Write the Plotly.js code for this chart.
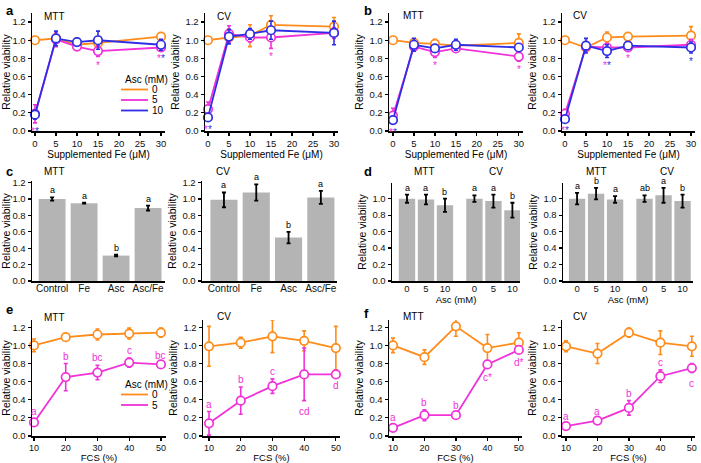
<!DOCTYPE html>
<html><head><meta charset="utf-8">
<script src="https://cdn.plot.ly/plotly-3.0.1.min.js"></script>
<style>html,body{margin:0;padding:0;background:#fff}#fig{width:701px;height:463px}</style>
</head><body><div id="fig"></div>
<script>
// ---------- DATA ----------
const feLevels = [0, 5, 10, 15, 30];
const ascLevels = ['0', '5', '10'];
const yTicks = [0, 0.2, 0.4, 0.6, 0.8, 1.0, 1.2];
// panel a MTT
const aMtt0 = [1.00, 1.02, 0.95, 0.97, 1.04], aMtt0E = [0.03, 0.03, 0.03, 0.04, 0.04];
const aMtt5 = [0.19, 1.01, 0.93, 0.88, 0.92], aMtt5E = [0.10, 0.08, 0.04, 0.06, 0.03];
const aMtt10 = [0.18, 1.02, 0.98, 1.00, 0.95], aMtt10E = [0.05, 0.08, 0.04, 0.10, 0.06];
const aMttStarM = ['*', '', '', '*', '*'], aMttStarB = ['*', '', '', '', '*'];
// panel a CV
const aCv0 = [1.00, 1.03, 1.05, 1.17, 1.15], aCv0E = [0.02, 0.03, 0.12, 0.10, 0.10];
const aCv5 = [0.24, 1.07, 1.03, 1.03, 1.08], aCv5E = [0.08, 0.09, 0.05, 0.12, 0.06];
const aCv10 = [0.15, 1.04, 1.07, 1.11, 1.08], aCv10E = [0.04, 0.08, 0.06, 0.10, 0.13];
const aCvStarM = ['*', '', '', '*', ''], aCvStarB = ['*', '', '', '', ''];
// panel b MTT
const bMtt0 = [1.00, 0.97, 0.96, 0.94, 0.97], bMtt0E = [0.02, 0.03, 0.05, 0.04, 0.10];
const bMtt5 = [0.17, 0.93, 0.87, 0.91, 0.82], bMtt5E = [0.08, 0.03, 0.06, 0.03, 0.05];
const bMtt10 = [0.12, 0.95, 0.91, 0.95, 0.92], bMtt10E = [0.04, 0.07, 0.04, 0.06, 0.04];
const bMttStarM = ['*', '', '*', '', '*'], bMttStarB = ['*', '', '', '', ''];
// panel b CV
const bCv0 = [1.00, 0.92, 1.03, 1.04, 1.05], bCv0E = [0.02, 0.03, 0.06, 0.04, 0.10];
const bCv5 = [0.19, 0.93, 0.92, 0.92, 0.95], bCv5E = [0.05, 0.05, 0.03, 0.03, 0.06];
const bCv10 = [0.13, 0.94, 0.88, 0.94, 0.92], bCv10E = [0.03, 0.08, 0.07, 0.03, 0.06];
const bCvStarM = ['*', '', '*', '*', ''], bCvStarB = ['*', '', '*', '', '*'];
// panel c
const cCats = ['Control', 'Fe', 'Asc', 'Asc/Fe'];
const cMtt = [1.00, 0.95, 0.31, 0.89], cMttE = [0.02, 0.005, 0.01, 0.03], cMttL = ['a', 'a', 'b', 'a'];
const cCv = [0.99, 1.08, 0.53, 1.02], cCvE = [0.09, 0.10, 0.07, 0.08], cCvL = ['a', 'a', 'b', 'a'];
// panel d
const dAsc = ['0', '5', '10'];
const dLMtt = [1.00, 0.99, 0.92], dLMttE = [0.05, 0.06, 0.08], dLMttL = ['a', 'a', 'b'];
const dLCv = [1.00, 0.97, 0.86], dLCvE = [0.04, 0.08, 0.09], dLCvL = ['a', 'a', 'b'];
const dRMtt = [1.00, 1.06, 0.99], dRMttE = [0.07, 0.07, 0.04], dRMttL = ['a', 'b', 'a'];
const dRCv = [1.00, 1.04, 0.97], dRCvE = [0.04, 0.09, 0.08], dRCvL = ['ab', 'a', 'b'];
// panels e, f
const fcs = [10, 20, 30, 40, 50];
const eMtt0 = [1.00, 1.09, 1.12, 1.13, 1.14], eMtt0E = [0.07, 0.03, 0.06, 0.06, 0.05];
const eMtt5 = [0.15, 0.65, 0.70, 0.81, 0.79], eMtt5E = [0.04, 0.15, 0.08, 0.05, 0.02];
const eMttL = ['a', 'b', 'bc', 'c', 'bc'], eMttSide = ['up', 'up', 'up', 'up', 'up'];
const eCv0 = [0.99, 1.03, 1.10, 1.05, 0.97], eCv0E = [0.22, 0.06, 0.18, 0.11, 0.24];
const eCv5 = [0.14, 0.39, 0.55, 0.68, 0.68], eCv5E = [0.13, 0.15, 0.08, 0.29, 0.01];
const eCvL = ['a', 'b', 'c', 'cd', 'd'], eCvSide = ['up', 'up', 'up', 'down', 'down'];
const fMtt0 = [1.00, 0.87, 1.21, 0.97, 1.03], fMtt0E = [0.08, 0.08, 0.11, 0.15, 0.11];
const fMtt5 = [0.09, 0.23, 0.23, 0.79, 0.95], fMtt5E = [0.03, 0.06, 0.02, 0.03, 0.02];
const fMttL = ['a', 'b', 'b', 'c*', 'd*'], fMttSide = ['up', 'up', 'up', 'down', 'down'];
const fCv0 = [0.99, 0.91, 1.14, 1.03, 0.99], fCv0E = [0.06, 0.11, 0.05, 0.13, 0.11];
const fCv5 = [0.11, 0.17, 0.31, 0.66, 0.75], fCv5E = [0.02, 0.02, 0.08, 0.07, 0.05];
const fCvL = ['a', 'a', 'b', 'c', 'c'], fCvSide = ['up', 'up', 'up', 'up', 'down'];

// ---------- STYLE ----------
const W = 701, H = 463;
const FONT = 'Liberation Sans, Arial, sans-serif';
const COL = {o: '#ff8c1a', m: '#f032d8', b: '#2e2ee6'};
const BARC = '#b4b4b4';
const data = [], annotations = [], shapes = [];
const layout = {
  width: W, height: H, margin: {l: 0, r: 0, t: 0, b: 0},
  paper_bgcolor: '#fff', plot_bgcolor: 'rgba(0,0,0,0)', showlegend: false,
  font: {family: FONT, size: 9.5, color: '#000'}
};
function axCommon() {
  return {showline: true, linecolor: '#000', linewidth: 1.5, showgrid: false, zeroline: false,
    ticks: 'outside', ticklen: 3, tickwidth: 1.2, tickcolor: '#000',
    tickfont: {family: FONT, size: 9.5, color: '#111'}, fixedrange: true};
}
function setX(n, px0, px1, range, extra) {
  layout['xaxis' + (n === 1 ? '' : n)] = Object.assign(axCommon(),
    {domain: [px0 / W, px1 / W], range: range, anchor: 'y' + (n === 1 ? '' : n)}, extra || {});
}
function setY(n, pyTop, pyBot, range, extra) {
  layout['yaxis' + (n === 1 ? '' : n)] = Object.assign(axCommon(),
    {domain: [1 - pyBot / H, 1 - pyTop / H], range: range, anchor: 'x' + (n === 1 ? '' : n),
     tickmode: 'array', tickvals: yTicks, ticktext: yTicks.map(v => v.toFixed(1)),
     title: {text: 'Relative viability', font: {family: FONT, size: 10.5}, standoff: 3}}, extra || {});
  // minor ticks drawn by an overlaid, label-less axis
  layout['yaxis' + (n + 12)] = {overlaying: 'y' + (n === 1 ? '' : n), anchor: 'x' + (n === 1 ? '' : n),
    range: range, tickmode: 'linear', tick0: 0, dtick: 0.1, ticks: 'outside', ticklen: 2, tickwidth: 1,
    tickcolor: '#000', showticklabels: false, showline: false, showgrid: false, zeroline: false, fixedrange: true};
}
function ref(n) { return n === 1 ? ['x', 'y'] : ['x' + n, 'y' + n]; }

function lineTrace(n, x, y, e, color) {
  const [xa, ya] = ref(n);
  data.push({type: 'scatter', mode: 'lines+markers', x: x, y: y, xaxis: xa, yaxis: ya,
    line: {color: color, width: 1.8},
    marker: {symbol: 'circle', size: 8.5, color: '#fff', line: {color: color, width: 1.7}},
    error_y: {type: 'data', array: e, visible: true, color: color, thickness: 1.6, width: 2},
    cliponaxis: false});
}
function barTrace(n, x, y, e, width) {
  const [xa, ya] = ref(n);
  data.push({type: 'bar', x: x, y: y, xaxis: xa, yaxis: ya, width: width,
    marker: {color: BARC, line: {width: 0}},
    error_y: {type: 'data', array: e, visible: true, color: '#000', thickness: 1.8, width: 2}});
}
function txt(n, x, y, text, opts) {
  const [xa, ya] = ref(n);
  annotations.push(Object.assign({xref: xa, yref: ya, x: x, y: y, text: text, showarrow: false,
    font: {family: FONT, size: 9, color: '#000'}}, opts || {}));
}
function paperTxt(px, py, text, size, extra) {
  annotations.push(Object.assign({xref: 'paper', yref: 'paper', x: px / W, y: 1 - py / H, text: text,
    showarrow: false, xanchor: 'left', yanchor: 'middle', font: {family: FONT, size: size, color: '#000'}}, extra || {}));
}
function stars(n, x, v5, e5, v10, e10, sM, sB) {
  x.forEach((xv, i) => {
    const m = sM[i], b = sB[i];
    if (!m && !b) return;
    let t = '', yv;
    if (m && b) {
      t = '<span style="color:' + COL.m + '">' + m + '</span><span style="color:' + COL.b + '">' + b + '</span>';
      yv = Math.min(v5[i] - e5[i], v10[i] - e10[i]);
    } else if (m) { t = m; yv = v5[i] - e5[i]; }
    else { t = b; yv = v10[i] - e10[i]; }
    txt(n, xv, yv, t, {yanchor: 'top', yshift: -1, font: {family: FONT, size: 10, color: m && !b ? COL.m : (b && !m ? COL.b : '#000')}});
  });
}
function letters(n, x, v, e, L, side, color) {
  x.forEach((xv, i) => {
    const up = !side || side[i] === 'up';
    txt(n, xv, up ? v[i] + e[i] : v[i] - e[i], L[i],
      {yanchor: up ? 'bottom' : 'top', yshift: up ? 0 : -3, font: {family: FONT, size: color ? 10 : 9, color: color || '#000'}});
  });
}

// ---------- ROW 1 : a, b ----------
const feTitle = {text: 'Supplemented Fe (μM)', font: {family: FONT, size: 10}, standoff: 2};
const feX = {tick0: 0, dtick: 5, title: feTitle};
setX(1, 32, 165, [-0.71, 30.95], feX);   setY(1, 13, 131, [0, 1.3]);
setX(2, 205, 338, [-0.71, 30.95], feX);  setY(2, 13, 131, [0, 1.3]);
setX(3, 389, 523, [-0.95, 31.0], feX);   setY(3, 13, 131, [0, 1.3]);
setX(4, 562, 695, [-0.71, 30.95], feX);  setY(4, 13, 131, [0, 1.3]);
[[1, aMtt0, aMtt0E, aMtt5, aMtt5E, aMtt10, aMtt10E, aMttStarM, aMttStarB],
 [2, aCv0, aCv0E, aCv5, aCv5E, aCv10, aCv10E, aCvStarM, aCvStarB],
 [3, bMtt0, bMtt0E, bMtt5, bMtt5E, bMtt10, bMtt10E, bMttStarM, bMttStarB],
 [4, bCv0, bCv0E, bCv5, bCv5E, bCv10, bCv10E, bCvStarM, bCvStarB]].forEach(p => {
  lineTrace(p[0], feLevels, p[1], p[2], COL.o);
  lineTrace(p[0], feLevels, p[3], p[4], COL.m);
  lineTrace(p[0], feLevels, p[5], p[6], COL.b);
  stars(p[0], feLevels, p[3], p[4], p[5], p[6], p[7], p[8]);
});

// ---------- ROW 2 : c, d ----------
const catX = {type: 'category', ticks: '', ticklabelstandoff: -3, tickfont: {family: FONT, size: 10, color: '#111'}};
setX(5, 32, 165, [-0.63, 3.53], catX);   setY(5, 181, 281, [0, 1.22]);
setX(6, 202, 337, [-0.68, 3.5], catX);   setY(6, 181, 281, [0, 1.22]);
barTrace(5, cCats, cMtt, cMttE, 0.84);  letters(5, cCats, cMtt, cMttE, cMttL);
barTrace(6, cCats, cCv, cCvE, 0.84);    letters(6, cCats, cCv, cCvE, cCvL);

const groupGap = 3.55;
const dPosM = dAsc.map((_, i) => i), dPosC = dAsc.map((_, i) => i + groupGap);
const dX = {tickmode: 'array', tickvals: dPosM.concat(dPosC), ticktext: dAsc.concat(dAsc), ticks: '',
  ticklabelstandoff: -2, tickfont: {family: FONT, size: 9.5, color: '#111'},
  title: {text: 'Asc (mM)', font: {family: FONT, size: 9.5}, standoff: 0}};
setX(7, 392, 520, [-0.79, 5.95], dX);   setY(7, 183, 281, [0, 1.19]);
setX(8, 563, 693, [-0.74, 6.1], dX);    setY(8, 183, 281, [0, 1.19]);
barTrace(7, dPosM, dLMtt, dLMttE, 0.86); barTrace(7, dPosC, dLCv, dLCvE, 0.86);
barTrace(8, dPosM, dRMtt, dRMttE, 0.86); barTrace(8, dPosC, dRCv, dRCvE, 0.86);
letters(7, dPosM, dLMtt, dLMttE, dLMttL); letters(7, dPosC, dLCv, dLCvE, dLCvL);
letters(8, dPosM, dRMtt, dRMttE, dRMttL); letters(8, dPosC, dRCv, dRCvE, dRCvL);

// ---------- ROW 3 : e, f ----------
const fcsX = {tickmode: 'array', tickvals: fcs, tickfont: {family: FONT, size: 9, color: '#111'},
  title: {text: 'FCS (%)', font: {family: FONT, size: 9.5}, standoff: 0}};
setX(9, 32, 166, [9.375, 51.6], fcsX);    setY(9, 320, 436, [0, 1.28]);
setX(10, 203, 340, [8.1, 51.3], fcsX);    setY(10, 320, 436, [0, 1.28]);
setX(11, 389, 522, [8.73, 51.0], fcsX);   setY(11, 320, 436, [0, 1.28]);
setX(12, 562, 695, [8.73, 51.0], fcsX);   setY(12, 320, 436, [0, 1.28]);
[[9, eMtt0, eMtt0E, eMtt5, eMtt5E, eMttL, eMttSide],
 [10, eCv0, eCv0E, eCv5, eCv5E, eCvL, eCvSide],
 [11, fMtt0, fMtt0E, fMtt5, fMtt5E, fMttL, fMttSide],
 [12, fCv0, fCv0E, fCv5, fCv5E, fCvL, fCvSide]].forEach(p => {
  lineTrace(p[0], fcs, p[1], p[2], COL.o);
  lineTrace(p[0], fcs, p[3], p[4], COL.m);
  letters(p[0], fcs, p[3], p[4], p[5], p[6], COL.m);
});

// ---------- panel labels & assay titles ----------
[['a', 4, 10], ['b', 362, 10], ['c', 4, 171], ['d', 362, 171], ['e', 4, 309], ['f', 362, 313]].forEach(l =>
  paperTxt(l[1], l[2], '<b>' + l[0] + '</b>', 13));
[['MTT', 42, 17], ['CV', 215, 17], ['MTT', 401, 16], ['CV', 571, 16],
 ['MTT', 42, 172], ['CV', 214, 172],
 ['MTT', 412, 172], ['CV', 487, 172], ['MTT', 584, 172], ['CV', 658, 172],
 ['MTT', 42, 317], ['CV', 215, 316], ['MTT', 401, 316], ['CV', 571, 316]].forEach(l =>
  paperTxt(l[1], l[2], l[0], 10));

// ---------- legends ----------
function legend(px, py, names, colors) {
  paperTxt(px + 2, py, 'Asc (mM)', 10);
  names.forEach((nm, i) => {
    const yy = 1 - (py + 10.5 * (i + 1)) / H;
    shapes.push({type: 'line', xref: 'paper', yref: 'paper', x0: px / W, x1: (px + 27) / W, y0: yy, y1: yy,
      line: {color: colors[i], width: 1.8}});
    paperTxt(px + 29, py + 10.5 * (i + 1), nm, 10);
  });
}
legend(121, 79, ascLevels, [COL.o, COL.m, COL.b]);
legend(121, 384, ascLevels.slice(0, 2), [COL.o, COL.m]);

layout.annotations = annotations;
layout.shapes = shapes;
Plotly.newPlot('fig', data, layout, {staticPlot: true, displayModeBar: false});
</script></body></html>
